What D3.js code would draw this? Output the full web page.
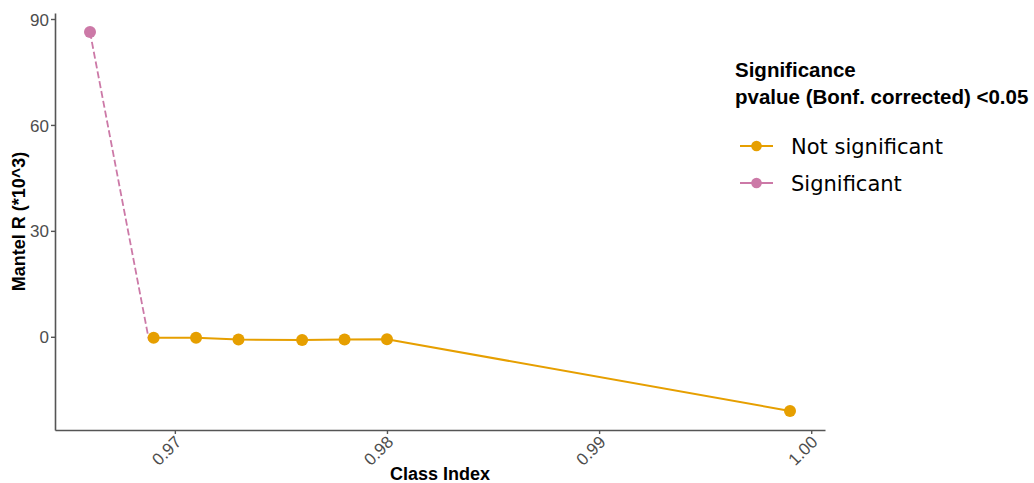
<!DOCTYPE html>
<html>
<head>
<meta charset="utf-8">
<script src="https://cdn.jsdelivr.net/npm/d3@7"></script>
<style>
  body { margin: 0; background: #fff; }
  svg { display: block; font-family: "Liberation Sans", Arial, Helvetica, sans-serif; }
</style>
</head>
<body>
<svg id="chart" width="1034" height="483"></svg>
<script>
// Mantel correlogram: class index vs Mantel R (x10^3)
const sigX = [0.966, 0.96878];
const sigY = [86.3, -1.0];
const notSigX = [0.969, 0.971, 0.973, 0.976, 0.978, 0.980, 0.999];
const notSigY = [-0.25, -0.25, -0.8, -0.9, -0.8, -0.7, -21.0];
const xTicks = [0.97, 0.98, 0.99, 1.00];
const yTicks = [0, 30, 60, 90];
const legendLabels = ["Not significant", "Significant"];
const colors = { notSig: "#E69F00", sig: "#CC79A7" };

const svg = d3.select("#chart");
const panel = { left: 55, right: 825, top: 13, bottom: 430 };

const x = d3.scaleLinear().domain([0.96435, 1.00065]).range([panel.left, panel.right]);
const y = d3.scaleLinear().domain([-26.4, 91.7]).range([panel.bottom, panel.top]);

// Axes
const xAxis = svg.append("g")
  .attr("transform", `translate(0,${panel.bottom})`)
  .call(d3.axisBottom(x).tickValues(xTicks).tickFormat(d3.format(".2f")).tickSize(4).tickSizeOuter(0));
const yAxis = svg.append("g")
  .attr("transform", `translate(${panel.left},0)`)
  .call(d3.axisLeft(y).tickValues(yTicks).tickFormat(d3.format("d")).tickSize(4).tickSizeOuter(0));

[xAxis, yAxis].forEach(g => {
  g.select(".domain").attr("stroke", "#555").attr("stroke-width", 1.6);
  g.selectAll(".tick line").attr("stroke", "#555").attr("stroke-width", 1.4);
  g.selectAll(".tick text").attr("fill", "#4D4D4D").style("font-size", "17px");
});
yAxis.selectAll(".tick text").attr("x", -6).attr("dy", "0.36em");
xAxis.selectAll(".tick text")
  .attr("text-anchor", "end")
  .attr("dy", "0")
  .attr("transform", "translate(7,13) rotate(-45)")
  .attr("x", 0).attr("y", 0);

// Axis titles
svg.append("text")
  .attr("x", (panel.left + panel.right) / 2)
  .attr("y", 480)
  .attr("text-anchor", "middle")
  .style("font-size", "18px").style("font-weight", "bold")
  .text("Class Index");
svg.append("text")
  .attr("transform", `translate(25,${(panel.top + panel.bottom) / 2}) rotate(-90)`)
  .attr("text-anchor", "middle")
  .style("font-size", "18px").style("font-weight", "bold")
  .text("Mantel R (*10^3)");

// Series
const line = d3.line().x(d => x(d[0])).y(d => y(d[1]));
const sigPts = sigX.map((v, i) => [v, sigY[i]]);
const notSigPts = notSigX.map((v, i) => [v, notSigY[i]]);

svg.append("path").datum(sigPts)
  .attr("d", line).attr("fill", "none")
  .attr("stroke", colors.sig).attr("stroke-width", 1.8)
  .attr("stroke-dasharray", "7,3");
svg.append("path").datum(notSigPts)
  .attr("d", line).attr("fill", "none")
  .attr("stroke", colors.notSig).attr("stroke-width", 2);

svg.append("g").selectAll("circle").data(notSigPts).join("circle")
  .attr("cx", d => x(d[0])).attr("cy", d => y(d[1])).attr("r", 6)
  .attr("fill", colors.notSig);
svg.append("g").selectAll("circle").data(sigPts.slice(0, 1)).join("circle")
  .attr("cx", d => x(d[0])).attr("cy", d => y(d[1])).attr("r", 6)
  .attr("fill", colors.sig);

// Legend
const lg = svg.append("g").attr("transform", "translate(735,0)");
lg.append("text").attr("x", 0).attr("y", 77)
  .style("font-size", "20.5px").style("font-weight", "bold").text("Significance");
lg.append("text").attr("x", 0).attr("y", 104)
  .style("font-size", "20.5px").style("font-weight", "bold").text("pvalue (Bonf. corrected) <0.05");

const keyColors = [colors.notSig, colors.sig];
legendLabels.forEach((lab, i) => {
  const cy = 146 + i * 37;
  lg.append("line").attr("x1", 5).attr("x2", 38).attr("y1", cy).attr("y2", cy)
    .attr("stroke", keyColors[i]).attr("stroke-width", 2);
  lg.append("circle").attr("cx", 21.5).attr("cy", cy).attr("r", 5.3)
    .attr("fill", keyColors[i]);
  lg.append("text").attr("x", 56).attr("y", cy).attr("dy", "0.36em")
    .style("font-family", "'DejaVu Sans', sans-serif")
    .style("font-size", "21px").attr("fill", "#000").text(lab);
});
</script>
</body>
</html>
